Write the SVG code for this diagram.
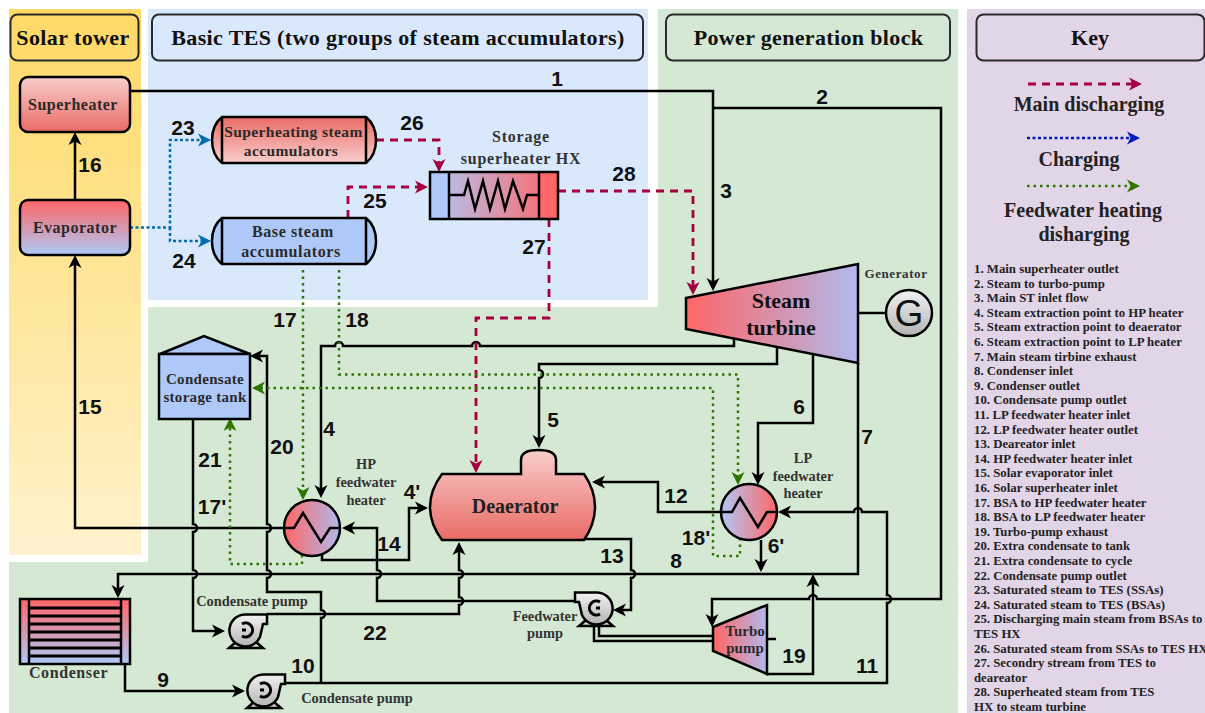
<svg xmlns="http://www.w3.org/2000/svg" width="1205" height="713" viewBox="0 0 1205 713">
<style>
text{font-family:"Liberation Serif","Times New Roman",serif;font-weight:bold;fill:#222;text-anchor:middle}
.n{font-family:"Liberation Sans",Arial,sans-serif;font-size:21px;fill:#111}
.t{font-size:22px;fill:#111}
.b{font-size:16px;letter-spacing:.5px;fill:#2a2a2a}
.s{font-size:14.4px;fill:#333}
.k{font-size:20px}
.l{font-size:12.8px;text-anchor:start}
.box{fill:none;stroke:#2b2b2b;stroke-width:2}
.o{stroke:#000;stroke-width:2.5}
.w{fill:none;stroke:#000;stroke-width:2.5;marker-end:url(#ab)}
.nm{fill:none;stroke:#000;stroke-width:2.5}
.r{fill:none;stroke:#A50040;stroke-width:2.8;stroke-dasharray:8 6;marker-end:url(#ar)}
.g{fill:none;stroke:#2D7600;stroke-width:2.5;stroke-dasharray:2.5 4;marker-end:url(#ag)}
.c{fill:none;stroke:#006EAF;stroke-width:2.5;stroke-dasharray:3 2.5;marker-end:url(#ac)}
.kb{fill:none;stroke:#001DBC;stroke-width:2.5;stroke-dasharray:3 2.5;marker-end:url(#akb)}
</style>
<defs>
<marker id="ab" markerUnits="userSpaceOnUse" markerWidth="16" markerHeight="16" refX="10" refY="7" orient="auto"><path d="M0,.5 L13,7 L0,13.500 L3.500,7 Z" fill="#000"/></marker>
<marker id="ar" markerUnits="userSpaceOnUse" markerWidth="16" markerHeight="16" refX="10" refY="7" orient="auto"><path d="M0,.5 L13,7 L0,13.500 L3.500,7 Z" fill="#A50040"/></marker>
<marker id="ag" markerUnits="userSpaceOnUse" markerWidth="16" markerHeight="16" refX="10" refY="7" orient="auto"><path d="M0,.5 L13,7 L0,13.500 L3.500,7 Z" fill="#2D7600"/></marker>
<marker id="ac" markerUnits="userSpaceOnUse" markerWidth="16" markerHeight="16" refX="10" refY="7" orient="auto"><path d="M0,.5 L13,7 L0,13.500 L3.500,7 Z" fill="#006EAF"/></marker>
<marker id="akb" markerUnits="userSpaceOnUse" markerWidth="16" markerHeight="16" refX="10" refY="7" orient="auto"><path d="M0,.5 L13,7 L0,13.500 L3.500,7 Z" fill="#001DBC"/></marker>
<linearGradient id="gY" x1="0" y1="0" x2="0" y2="1"><stop offset="0" stop-color="#FFD966"/><stop offset="1" stop-color="#FFF2CC"/></linearGradient>
<linearGradient id="gRd" x1="0" y1="0" x2="0" y2="1"><stop offset="0" stop-color="#F8CECC"/><stop offset="1" stop-color="#EA6B66"/></linearGradient>
<linearGradient id="gRu" x1="0" y1="0" x2="0" y2="1"><stop offset="0" stop-color="#EA6B66"/><stop offset="1" stop-color="#F8CECC"/></linearGradient>
<linearGradient id="gEv" x1="0" y1="0" x2="0" y2="1"><stop offset="0" stop-color="#FF6666"/><stop offset="1" stop-color="#AEC9F8"/></linearGradient>
<linearGradient id="gRB" x1="0" y1="0" x2="1" y2="0"><stop offset="0" stop-color="#FF6666"/><stop offset="1" stop-color="#B1B9EC"/></linearGradient>
<linearGradient id="gBR" x1="0" y1="0" x2="1" y2="0"><stop offset="0" stop-color="#AEC9F8"/><stop offset="1" stop-color="#FF6666"/></linearGradient>
<linearGradient id="gP" x1="0" y1="0" x2="0" y2="1"><stop offset="0" stop-color="#F2F2F2"/><stop offset="1" stop-color="#B3B3B3"/></linearGradient>
<g id="pump"><path d="M-10,12 L-17,18 H17 L10,12" fill="#d0d0d0" class="o"/><path d="M21,-15.500 H0 A16,16 0 1 0 14,7 L17,-6 H21 Z" fill="url(#gP)" class="o"/><path d="M-4,-6 A7,7 0 1 1 -4,6 M-4,0 H0" fill="none" stroke="#000" stroke-width="3"/></g>
</defs>

<g id="panels">
<rect x="9" y="9" width="132" height="546" fill="url(#gY)"/>
<rect x="148" y="9" width="500" height="291" fill="#DAE8FC"/>
<polygon points="658,9 958,9 958,713 9,713 9,562 148,562 148,307 658,307" fill="#D5E8D4"/>
<rect x="967" y="9" width="238" height="704" fill="#E1D5E7"/>
<rect class="box" x="10.500" y="14.500" width="128" height="46" rx="7"/>
<rect class="box" x="152" y="14.500" width="491" height="46" rx="7"/>
<rect class="box" x="666" y="14.500" width="284" height="46" rx="7"/>
<rect class="box" x="976.500" y="14.500" width="228" height="46" rx="7"/>
<text class="t" x="73" y="45" letter-spacing=".4">Solar tower</text>
<text class="t" x="398" y="45" letter-spacing=".35">Basic TES (two groups of steam accumulators)</text>
<text class="t" x="808.500" y="45" letter-spacing=".35">Power generation block</text>
<text class="t" x="1090" y="45">Key</text>
</g>

<g id="connectors">
<path class="w" d="M130,91 H713 V288"/>
<path class="w" d="M713,108 H941 V599 H817 a4,4 0 0 0 -8,0 H712 V624"/>
<path class="w" d="M734,338 V346 H480 a4,4 0 0 0 -8,0 H343 a4,4 0 0 0 -8,0 H321 V495"/>
<path class="w" d="M777,347 V364 H539 V370 a4,4 0 0 1 0,8 V445"/>
<path class="w" d="M813,354 V423 H758 V482"/>
<path class="w" d="M858,363 V574 H118 V595"/>
<path class="w" d="M286,683 H887 V603 a4,4 0 0 0 0,-8 V512 H862 a4,4 0 0 0 -8,0 H781"/>
<path class="w" d="M722,512 H658 V482 H595"/>
<path class="w" d="M585,539 H631 V570 a4,4 0 0 1 0,8 V610 H616"/>
<path class="w" d="M576,601 H377 V578 a4,4 0 0 0 0,-8 V528 H345"/>
<path class="w" d="M322,555 V560 H409 V508 H425"/>
<path class="w" d="M284,528 H75 V258"/>
<path class="w" d="M75,200 V135"/>
<path class="w" d="M321,683 V618 a4,4 0 0 0 0,-8 V592 H267 V578 a4,4 0 0 0 0,-8 V532 a4,4 0 0 0 0,-8 V356 H253"/>
<path class="w" d="M193,419 V524 a4,4 0 0 1 0,8 V570 a4,4 0 0 1 0,8 V631 H222"/>
<path class="w" d="M267,614 H459 V605 a4,4 0 0 0 0,-8 V578 a4,4 0 0 0 0,-8 V545"/>
<path class="w" d="M125,664 V691 H242"/>
<path class="w" d="M767,674 H813 V577"/>
<path class="w" d="M761,540 V569"/>
<path class="nm" d="M858,313 H886 M767,639 H776 M599,627 V636 H712 M594,627 V641 H712"/>
<path class="c" d="M130,227.500 H170 V140 H208"/>
<path class="c" d="M170,227.500 V241 H208"/>
<path class="r" d="M376,140 H439 V169"/>
<path class="r" d="M348,218 V187 H425"/>
<path class="r" d="M558,191 H693 V292"/>
<path class="r" d="M549,219 V318 H476 V470"/>
<path class="g" d="M303,270 V497"/>
<path class="g" d="M339,270 V374.500 H738 V482"/>
<path class="g" d="M740,538 V556 H713 V388 H255"/>
<path class="g" d="M302,555 V564 H230 V421"/>
</g>

<g id="superheater"><rect x="20" y="77" width="110" height="55" rx="8" fill="url(#gRd)" class="o"/><text class="b" x="73" y="110">Superheater</text></g>
<g id="evaporator"><rect x="20" y="200" width="110" height="55" rx="8" fill="url(#gEv)" class="o"/><text class="b" x="75" y="233">Evaporator</text></g>
<g id="ssa"><path d="M222,117 H366 Q376,125 376,140 Q376,155 366,163 H222 Q212,155 212,140 Q212,125 222,117 Z M222,117 V163 M366,117 V163" fill="url(#gRu)" class="o"/><text class="b" x="293.500" y="137" style="font-size:15.500px;letter-spacing:.4px">Superheating steam</text><text class="b" x="291" y="156" style="font-size:15.500px;letter-spacing:.4px">accumulators</text></g>
<g id="bsa"><path d="M222,218 H366 Q376,226 376,241 Q376,256 366,264 H222 Q212,256 212,241 Q212,226 222,218 Z M222,218 V264 M366,218 V264" fill="#AEC9F8" class="o"/><text class="b" x="293" y="237" style="font-size:16px;letter-spacing:.6px">Base steam</text><text class="b" x="291" y="257" style="font-size:16px;letter-spacing:.6px">accumulators</text></g>
<g id="storage-hx"><rect x="430" y="172" width="128" height="47" fill="url(#gBR)"/><rect x="430" y="172" width="19" height="47" fill="#AEC9F8"/><rect x="539" y="172" width="19" height="47" fill="#FF6666"/><path d="M430,172 H558 V219 H430 Z M449,172 V219 M539,172 V219" fill="none" class="o"/><path class="nm" d="M449,195 H464 L468,181 L475,209 L483,181 L490,209 L498,181 L505,209 L513,181 L523,209 L527,195 H539"/><text class="s" x="521" y="142" style="font-size:16px;letter-spacing:.8px">Storage</text><text class="s" x="521" y="164" style="font-size:16px;letter-spacing:.8px">superheater HX</text></g>
<g id="steam-turbine"><polygon points="686,298 858,264 858,363 686,329" fill="url(#gRB)" class="o"/><text class="t" x="781" y="308">Steam</text><text class="t" x="781" y="335">turbine</text></g>
<g id="generator"><circle cx="909" cy="313" r="23" fill="url(#gP)" class="o"/><text x="909" y="326" style="font-family:'Liberation Sans',sans-serif;font-weight:normal;font-size:37px;fill:#111">G</text><text class="s" x="896" y="278" style="font-size:13px;letter-spacing:.6px">Generator</text></g>
<g id="tank"><polygon points="160,354 204,336 250,354" fill="#AEC9F8" class="o"/><rect x="159" y="354" width="91" height="65" fill="#AEC9F8" class="o"/><text class="b" x="205" y="384" style="font-size:15px;letter-spacing:.3px">Condensate</text><text class="b" x="205" y="402" style="font-size:15px;letter-spacing:.3px">storage tank</text></g>
<g id="hp-heater"><circle cx="312" cy="528" r="28" fill="url(#gRB)" class="o"/><path class="nm" d="M284,528 H294 L303,513 L321,542 L330,528 H340"/><text class="s" x="366" y="469">HP</text><text class="s" x="366" y="487">feedwater</text><text class="s" x="366" y="505">heater</text></g>
<g id="lp-heater"><circle cx="749" cy="512" r="28" fill="url(#gBR)" class="o"/><path class="nm" d="M722,512 H732 L740,498 L758,527 L767,512 H777"/><text class="s" x="803" y="463">LP</text><text class="s" x="803" y="481">feedwater</text><text class="s" x="803" y="498">heater</text></g>
<g id="deaerator"><path d="M442,474 H521 V460 Q521,450 538,450 Q556,450 556,460 V474 H584 Q595,490 595,507 Q595,524 584,540 H442 Q430,524 430,507 Q430,490 442,474 Z" fill="url(#gRd)" class="o"/><text x="515" y="513" style="font-size:20px;fill:#222">Deaerator</text></g>
<g id="condenser"><rect x="20" y="599" width="110" height="65" fill="url(#gEv)" class="o"/><path d="M29,599 V664 M121,599 V664" class="o" stroke-width="3"/><path d="M29,608 H121 M29,616 H121 M29,624 H121 M29,632 H121 M29,640 H121 M29,648 H121 M29,656 H121" stroke="#000" stroke-width="3"/><text class="s" x="68.500" y="678" style="font-size:16px;letter-spacing:.6px">Condenser</text></g>
<g id="pump-1"><use href="#pump" transform="translate(246,630)"/><text class="s" x="252" y="606">Condensate pump</text></g>
<g id="pump-2"><use href="#pump" transform="translate(264,690)"/><text class="s" x="357" y="703">Condensate pump</text></g>
<g id="pump-3"><use href="#pump" transform="translate(596,608) scale(-1,1)"/><text class="s" x="545" y="621">Feedwater</text><text class="s" x="545" y="638">pump</text></g>
<g id="turbo-pump"><polygon points="713,627 767,605 767,674 713,651" fill="url(#gRB)" class="o"/><text class="b" x="745" y="636" style="font-size:15px;letter-spacing:0">Turbo</text><text class="b" x="745" y="653" style="font-size:15px;letter-spacing:0">pump</text></g>

<g id="labels">
<text class="n" x="557" y="86">1</text><text class="n" x="822" y="104">2</text><text class="n" x="726" y="198">3</text><text class="n" x="329" y="436">4</text><text class="n" x="412" y="499">4'</text><text class="n" x="553" y="427">5</text><text class="n" x="799" y="414">6</text><text class="n" x="776" y="553">6'</text><text class="n" x="867" y="444">7</text><text class="n" x="676" y="568">8</text><text class="n" x="163" y="687">9</text><text class="n" x="303" y="673">10</text><text class="n" x="867" y="673">11</text><text class="n" x="676" y="503">12</text><text class="n" x="612" y="563">13</text><text class="n" x="389" y="551">14</text><text class="n" x="90" y="414">15</text><text class="n" x="90" y="172">16</text><text class="n" x="285" y="327">17</text><text class="n" x="212" y="514">17'</text><text class="n" x="357" y="327">18</text><text class="n" x="696" y="545">18'</text><text class="n" x="794" y="663">19</text><text class="n" x="282" y="454">20</text><text class="n" x="210" y="467">21</text><text class="n" x="375" y="640">22</text><text class="n" x="183" y="135">23</text><text class="n" x="184" y="268">24</text><text class="n" x="375" y="208">25</text><text class="n" x="412" y="130">26</text><text class="n" x="534" y="254">27</text><text class="n" x="624" y="181">28</text>
</g>

<g id="key">
<path class="r" d="M1028,84 H1139"/>
<path class="kb" d="M1027,138 H1137"/>
<path class="g" d="M1027,186 H1137"/>
<text class="k" x="1089" y="111">Main discharging</text>
<text class="k" x="1079" y="166">Charging</text>
<text class="k" x="1083" y="217">Feedwater heating</text>
<text class="k" x="1084" y="241">disharging</text>
<text class="l" x="974" y="273">1. Main superheater outlet</text>
<text class="l" x="974" y="287.600">2. Steam to turbo-pump</text>
<text class="l" x="974" y="302.200">3. Main ST inlet flow</text>
<text class="l" x="974" y="316.800">4. Steam extraction point to HP heater</text>
<text class="l" x="974" y="331.400">5. Steam extraction point to deaerator</text>
<text class="l" x="974" y="346">6. Steam extraction point to LP heater</text>
<text class="l" x="974" y="360.600">7. Main steam tirbine exhaust</text>
<text class="l" x="974" y="375.200">8. Condenser inlet</text>
<text class="l" x="974" y="389.800">9. Condenser outlet</text>
<text class="l" x="974" y="404.400">10. Condensate pump outlet</text>
<text class="l" x="974" y="419">11. LP feedwater heater inlet</text>
<text class="l" x="974" y="433.600">12. LP feedwater heater outlet</text>
<text class="l" x="974" y="448.200">13. Deareator inlet</text>
<text class="l" x="974" y="462.800">14. HP feedwater heater inlet</text>
<text class="l" x="974" y="477.400">15. Solar evaporator inlet</text>
<text class="l" x="974" y="492">16. Solar superheater inlet</text>
<text class="l" x="974" y="506.600">17. BSA to HP feedwater heater</text>
<text class="l" x="974" y="521.200">18. BSA to LP feedwater heater</text>
<text class="l" x="974" y="535.800">19. Turbo-pump exhaust</text>
<text class="l" x="974" y="550.400">20. Extra condensate to tank</text>
<text class="l" x="974" y="565">21. Extra condensate to cycle</text>
<text class="l" x="974" y="579.600">22. Condensate pump outlet</text>
<text class="l" x="974" y="594.200">23. Saturated steam to TES (SSAs)</text>
<text class="l" x="974" y="608.800">24. Saturated steam to TES (BSAs)</text>
<text class="l" x="974" y="623.400">25. Discharging main steam from BSAs to</text>
<text class="l" x="974" y="638">TES HX</text>
<text class="l" x="974" y="652.600">26. Saturated steam from SSAs to TES HX</text>
<text class="l" x="974" y="667.200">27. Secondry stream from TES  to</text>
<text class="l" x="974" y="681.800">deareator</text>
<text class="l" x="974" y="696.400">28. Superheated steam from TES</text>
<text class="l" x="974" y="711">HX to steam turbine</text>
</g>
</svg>
